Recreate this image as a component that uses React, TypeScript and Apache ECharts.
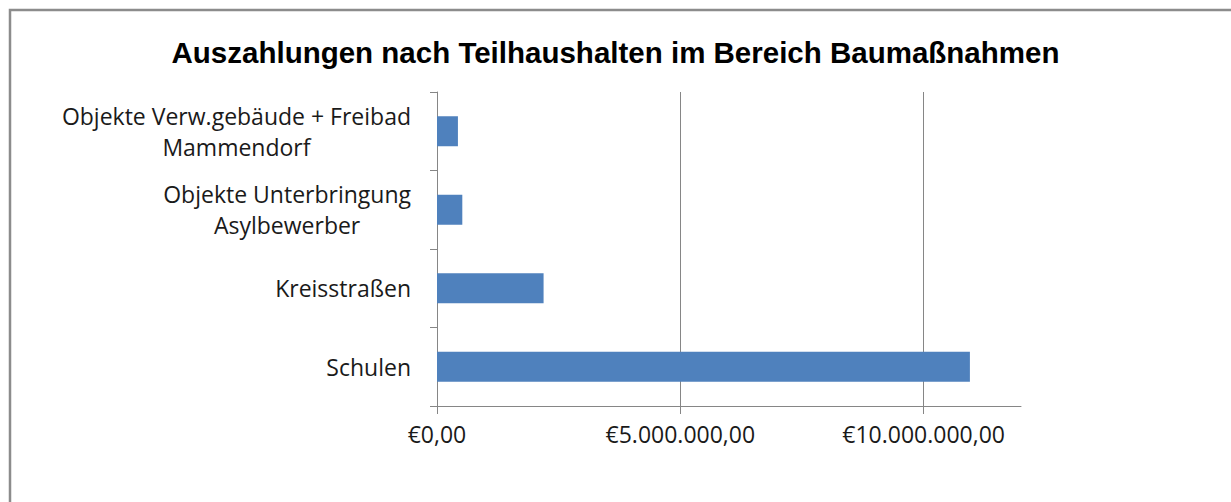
import React, { useEffect, useRef } from "react";
import * as echarts from "echarts";

const titleText = "Auszahlungen nach Teilhaushalten im Bereich Baumaßnahmen";
const categories = [
  "Schulen",
  "Kreisstraßen",
  "Objekte Unterbringung\nAsylbewerber",
  "Objekte Verw.gebäude + Freibad\nMammendorf",
];
const values = [10950000, 2190000, 520000, 430000];
const xTicks = [0, 5000000, 10000000];

function fmtEuro(v: number): string {
  const s = Math.round(v).toString().replace(/\B(?=(\d{3})+(?!\d))/g, ".");
  return "€" + s + ",00";
}

export default function App() {
  const ref = useRef<HTMLDivElement>(null);
  useEffect(() => {
    if (!ref.current) return;
    const chart = echarts.init(ref.current, undefined, { renderer: "svg" });
    chart.setOption({
      animation: false,
      backgroundColor: "#ffffff",
      title: {
        text: titleText,
        left: "center",
        top: 32,
        textStyle: {
          fontFamily: "Liberation Sans",
          fontWeight: "bold",
          fontSize: 29.5,
          color: "#000000",
        },
      },
      graphic: [
        {
          type: "polyline",
          shape: { points: [[10, 600], [10, 10], [1300, 10]] },
          style: { stroke: "#8c8c8c", lineWidth: 2.5, fill: "none" },
          silent: true,
        },
      ],
      grid: { left: 437, right: 210, top: 92, bottom: 96 },
      xAxis: {
        type: "value",
        min: 0,
        max: 12000000,
        interval: 5000000,
        axisLine: { show: true, lineStyle: { color: "#868686", width: 1 } },
        axisTick: { show: true, length: 8, customValues: xTicks, lineStyle: { color: "#868686" } },
        axisLabel: {
          customValues: xTicks,
          formatter: (v: number) => fmtEuro(v),
          margin: 16,
          fontFamily: "Open Sans",
          fontSize: 23,
          color: "#1a1a1a",
        },
        splitLine: { show: true, lineStyle: { color: "#868686", width: 1 } },
      },
      yAxis: {
        type: "category",
        data: categories,
        axisLine: { show: true, lineStyle: { color: "#868686", width: 1 } },
        axisTick: { show: true, length: 7, lineStyle: { color: "#868686" } },
        axisLabel: {
          margin: 26,
          align: "right",
          formatter: (v: string) =>
            v
              .split("\n")
              .map((line) => "{c|" + line + "}")
              .join("\n"),
          rich: {
            c: {
              align: "center",
              fontFamily: "Open Sans",
              fontSize: 23,
              lineHeight: 31,
              color: "#1a1a1a",
            },
          },
        },
      },
      series: [
        {
          type: "bar",
          data: values,
          barWidth: 30,
          itemStyle: { color: "#4f81bd" },
        },
      ],
    });
    return () => chart.dispose();
  }, []);
  return (
    <div
      ref={ref}
      style={{ position: "absolute", left: 0, top: 0, width: 1231, height: 502 }}
    />
  );
}
